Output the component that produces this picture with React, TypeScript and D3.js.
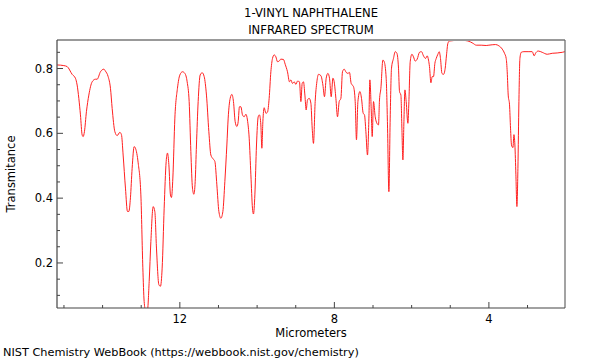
import React from "react";
import * as d3 from "d3";

const titleLines = ["1-VINYL NAPHTHALENE", "INFRARED SPECTRUM"];
const xLabel = "Micrometers";
const yLabel = "Transmitance";
const credit = "NIST Chemistry WebBook (https://webbook.nist.gov/chemistry)";
const xTicksMajor = [12, 8, 4];
const xTicksMinor = [15, 14, 13, 11, 10, 9, 7, 6, 5, 3];
const yTicksMajor = [0.2, 0.4, 0.6, 0.8];
const yTicksMinor = [0.1, 0.15, 0.25, 0.3, 0.35, 0.45, 0.5, 0.55, 0.65, 0.7, 0.75, 0.85];

const micrometers = [
  15.176, 15.003, 14.917, 14.788, 14.703, 14.659, 14.615, 14.573, 14.529, 14.503,
  14.470, 14.418, 14.356, 14.270, 14.185, 14.141, 14.055, 13.967, 13.926, 13.856,
  13.796, 13.752, 13.682, 13.623, 13.553, 13.512, 13.468, 13.408, 13.356, 13.320,
  13.279, 13.235, 13.183, 13.149, 13.079, 13.009, 12.958, 12.924, 12.890, 12.838,
  12.794, 12.750, 12.691, 12.647, 12.605, 12.543, 12.502, 12.458, 12.406, 12.354,
  12.321, 12.284, 12.243, 12.217, 12.181, 12.129, 12.062, 12.000, 11.932, 11.870,
  11.811, 11.759, 11.715, 11.673, 11.637, 11.603, 11.570, 11.526, 11.474, 11.422,
  11.370, 11.311, 11.249, 11.197, 11.138, 11.093, 11.042, 10.990, 10.938, 10.886,
  10.835, 10.783, 10.749, 10.697, 10.653, 10.612, 10.568, 10.524, 10.490, 10.457,
  10.420, 10.379, 10.335, 10.291, 10.250, 10.205, 10.161, 10.120, 10.094, 10.058,
  10.016, 9.972, 9.939, 9.903, 9.877, 9.851, 9.817, 9.773, 9.732, 9.688,
  9.644, 9.602, 9.558, 9.514, 9.473, 9.429, 9.385, 9.318, 9.273, 9.214,
  9.162, 9.126, 9.084, 9.040, 8.996, 8.955, 8.903, 8.867, 8.833, 8.800,
  8.763, 8.730, 8.696, 8.652, 8.608, 8.574, 8.541, 8.497, 8.453, 8.411,
  8.349, 8.297, 8.256, 8.212, 8.168, 8.126, 8.082, 8.038, 8.005, 7.961,
  7.919, 7.875, 7.831, 7.790, 7.746, 7.694, 7.650, 7.609, 7.565, 7.505,
  7.461, 7.428, 7.391, 7.339, 7.298, 7.254, 7.220, 7.184, 7.143, 7.106,
  7.081, 7.047, 7.021, 6.987, 6.943, 6.899, 6.858, 6.832, 6.796, 6.744,
  6.710, 6.659, 6.625, 6.589, 6.555, 6.521, 6.470, 6.425, 6.381, 6.340,
  6.314, 6.278, 6.252, 6.226, 6.200, 6.174, 6.141, 6.097, 6.071, 6.037,
  5.993, 5.952, 5.908, 5.856, 5.797, 5.745, 5.693, 5.641, 5.597, 5.563,
  5.538, 5.501, 5.468, 5.434, 5.398, 5.364, 5.320, 5.286, 5.253, 5.216,
  5.175, 5.131, 5.097, 5.061, 5.020, 4.932, 4.802, 4.673, 4.543, 4.414,
  4.328, 4.199, 4.070, 4.000, 3.829, 3.741, 3.655, 3.596, 3.552, 3.526,
  3.500, 3.466, 3.440, 3.415, 3.378, 3.352, 3.327, 3.301, 3.275, 3.249,
  3.223, 3.197, 3.163, 3.094, 2.964, 2.879, 2.827, 2.793, 2.723, 2.620,
  2.490, 2.361, 2.232, 2.102, 2.032,
];

const transmittance = [
  0.811, 0.809, 0.806, 0.782, 0.770, 0.749, 0.708, 0.657, 0.595, 0.590,
  0.605, 0.667, 0.718, 0.759, 0.767, 0.767, 0.790, 0.798, 0.792, 0.775,
  0.739, 0.677, 0.605, 0.593, 0.603, 0.596, 0.533, 0.431, 0.359, 0.359,
  0.401, 0.492, 0.559, 0.554, 0.509, 0.410, 0.185, 0.081, 0.055, 0.055,
  0.143, 0.266, 0.374, 0.358, 0.246, 0.133, 0.128, 0.184, 0.369, 0.513,
  0.539, 0.503, 0.410, 0.402, 0.462, 0.647, 0.739, 0.780, 0.790, 0.785,
  0.759, 0.698, 0.544, 0.431, 0.412, 0.451, 0.564, 0.698, 0.780, 0.787,
  0.775, 0.718, 0.605, 0.533, 0.521, 0.513, 0.441, 0.359, 0.338, 0.359,
  0.451, 0.564, 0.647, 0.708, 0.720, 0.698, 0.636, 0.621, 0.636, 0.682,
  0.682, 0.657, 0.651, 0.659, 0.641, 0.585, 0.472, 0.369, 0.351, 0.410,
  0.564, 0.651, 0.657, 0.626, 0.554, 0.636, 0.679, 0.662, 0.665, 0.708,
  0.790, 0.831, 0.842, 0.836, 0.821, 0.823, 0.829, 0.828, 0.813, 0.790,
  0.759, 0.765, 0.754, 0.759, 0.751, 0.761, 0.759, 0.698, 0.754, 0.759,
  0.718, 0.672, 0.703, 0.708, 0.693, 0.616, 0.569, 0.698, 0.759, 0.782,
  0.778, 0.749, 0.713, 0.770, 0.785, 0.770, 0.713, 0.770, 0.759, 0.708,
  0.651, 0.698, 0.708, 0.790, 0.798, 0.788, 0.785, 0.788, 0.754, 0.744,
  0.698, 0.580, 0.698, 0.729, 0.708, 0.662, 0.657, 0.605, 0.533, 0.647,
  0.765, 0.677, 0.590, 0.698, 0.651, 0.631, 0.626, 0.703, 0.739, 0.826,
  0.821, 0.770, 0.626, 0.420, 0.647, 0.801, 0.831, 0.852, 0.847, 0.801,
  0.729, 0.718, 0.616, 0.518, 0.636, 0.734, 0.698, 0.631, 0.698, 0.821,
  0.844, 0.836, 0.823, 0.829, 0.850, 0.852, 0.839, 0.831, 0.839, 0.826,
  0.806, 0.756, 0.775, 0.775, 0.816, 0.831, 0.844, 0.852, 0.831, 0.785,
  0.782, 0.801, 0.842, 0.878, 0.885, 0.886, 0.888, 0.887, 0.885, 0.878,
  0.872, 0.872, 0.871, 0.872, 0.874, 0.870, 0.860, 0.847, 0.831, 0.790,
  0.718, 0.688, 0.616, 0.564, 0.556, 0.596, 0.564, 0.472, 0.374, 0.492,
  0.698, 0.831, 0.850, 0.852, 0.852, 0.852, 0.839, 0.847, 0.854, 0.850,
  0.844, 0.847, 0.848, 0.850, 0.852,
];

const W = 600;
const H = 360;
const L = 57, R = 565, T = 40, B = 308;
const FONT = "DejaVu Sans, sans-serif";

export default function App() {
  const x = d3.scaleLinear().domain([15.18, 2.03]).range([L, R]);
  const y = d3.scaleLinear().domain([0.061, 0.888]).range([B, T]);
  const pts: [number, number][] = micrometers.map((m, i) => [m, transmittance[i]]);
  const line = d3
    .line<[number, number]>()
    .x((d) => x(d[0]))
    .y((d) => y(d[1]))
    .curve(d3.curveMonotoneX);
  const path = line(pts.slice().reverse()) || "";

  return (
    <svg
      width={W}
      height={H}
      style={{ position: "absolute", left: 0, top: 0, background: "#fff" }}
      fontFamily={FONT}
    >
      <defs>
        <clipPath id="plotclip">
          <rect x={L} y={T} width={R - L} height={B - T} />
        </clipPath>
      </defs>
      <rect x={0} y={0} width={W} height={H} fill="#fff" />
      {titleLines.map((t, i) => (
        <text key={t} x={(L + R) / 2} y={17 + i * 17} textAnchor="middle" fontSize={11.6} fill="#000">
          {t}
        </text>
      ))}
      <path d={path} fill="none" stroke="#ff2020" strokeWidth={1} clipPath="url(#plotclip)" />
      {/* frame */}
      <line x1={L} y1={T} x2={R} y2={T} stroke="#999" strokeWidth={2} />
      <line x1={R} y1={T} x2={R} y2={B} stroke="#666" strokeWidth={1.2} />
      <line x1={L} y1={T} x2={L} y2={B} stroke="#444" strokeWidth={1.2} />
      <line x1={L} y1={B} x2={R} y2={B} stroke="#444" strokeWidth={1.2} />
      {yTicksMajor.map((v) => (
        <g key={"ym" + v}>
          <line x1={L} x2={L + 6} y1={y(v)} y2={y(v)} stroke="#444" strokeWidth={1} />
          <text x={L - 4} y={y(v) + 4} textAnchor="end" fontSize={11.5} fill="#000">
            {v.toFixed(1)}
          </text>
        </g>
      ))}
      {yTicksMinor.map((v) => (
        <line key={"yn" + v} x1={L} x2={L + 3} y1={y(v)} y2={y(v)} stroke="#444" strokeWidth={1} />
      ))}
      {xTicksMajor.map((v) => (
        <g key={"xm" + v}>
          <line x1={x(v)} x2={x(v)} y1={B} y2={B - 6} stroke="#444" strokeWidth={1} />
          <text x={x(v)} y={B + 15} textAnchor="middle" fontSize={11.5} fill="#000">
            {v}
          </text>
        </g>
      ))}
      {xTicksMinor.map((v) => (
        <line key={"xn" + v} x1={x(v)} x2={x(v)} y1={B} y2={B - 3} stroke="#444" strokeWidth={1} />
      ))}
      <text x={(L + R) / 2} y={337} textAnchor="middle" fontSize={11.5} fill="#000">
        {xLabel}
      </text>
      <text
        transform={`translate(15, ${(T + B) / 2}) rotate(-90)`}
        textAnchor="middle"
        fontSize={11.5}
        fill="#000"
      >
        {yLabel}
      </text>
      <text x={3} y={356} fontSize={11.3} fill="#000">
        {credit}
      </text>
    </svg>
  );
}
